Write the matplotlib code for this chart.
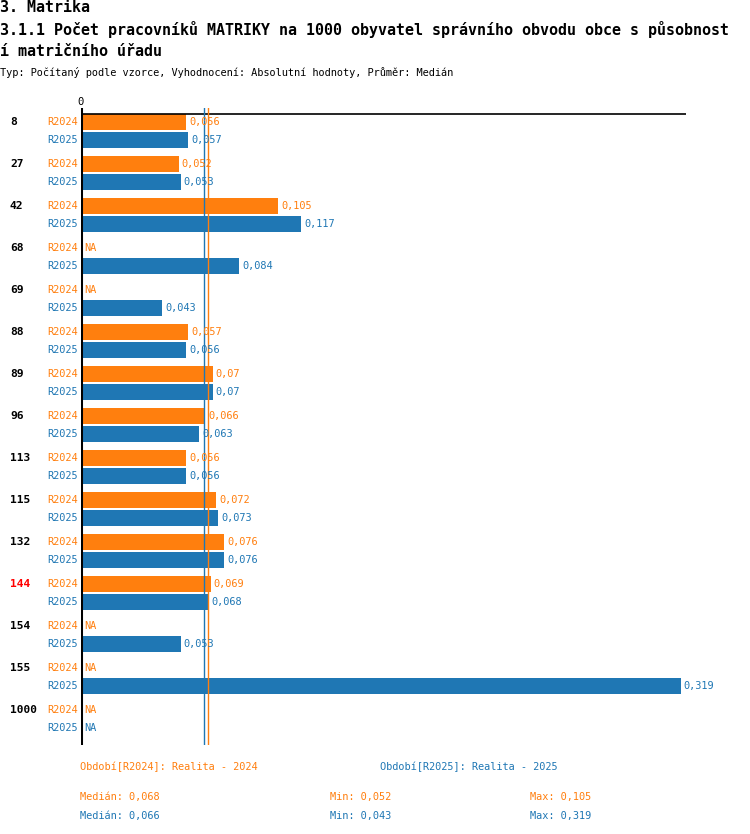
import numpy as np
import matplotlib
matplotlib.use('Agg')
import matplotlib.pyplot as plt

# Data
groups = ['8', '27', '42', '68', '69', '88', '89', '96', '113', '115', '132', '144', '154', '155', '1000']
r2024 = [0.056, 0.052, 0.105, np.nan, np.nan, 0.057, 0.070, 0.066, 0.056, 0.072, 0.076, 0.069, np.nan, np.nan, np.nan]
r2025 = [0.057, 0.053, 0.117, 0.084, 0.043, 0.056, 0.070, 0.063, 0.056, 0.073, 0.076, 0.068, 0.053, 0.319, np.nan]
highlight = '144'

series_names = ['R2024', 'R2025']
series_desc = ['Období[R2024]: Realita - 2024', 'Období[R2025]: Realita - 2025']
colors = ['#ff7f0e', '#1f77b4']

title1 = '3. Matrika'
title2 = '3.1.1 Počet pracovníků MATRIKY na 1000 obyvatel správního obvodu obce s působnost'
title3 = 'í matričního úřadu'
subtitle = 'Typ: Počítaný podle vzorce, Vyhodnocení: Absolutní hodnoty, Průměr: Medián'

MONO = 'DejaVu Sans Mono'
W, H = 750, 834


def fmt(v):
    s = f"{v + 1e-9:.3f}".rstrip('0').rstrip('.')
    return s.replace('.', ',')


def fx(px):
    return px / W


def fy(py):
    return 1 - py / H


fig = plt.figure(figsize=(W / 100, H / 100), dpi=100)

# header texts
fig.text(fx(0), fy(8), title1, fontsize=10.8, fontweight='bold', family=MONO, va='center')
fig.text(fx(0), fy(30), title2, fontsize=10.8, fontweight='bold', family=MONO, va='center')
fig.text(fx(0), fy(52), title3, fontsize=10.8, fontweight='bold', family=MONO, va='center')
fig.text(fx(0), fy(73), subtitle, fontsize=7.4, family=MONO, va='center')

ax = fig.add_axes([fx(81), fy(745), fx(686) - fx(81), (745 - 108) / H])

all_vals = np.array(r2024 + r2025, dtype=float)
xmax = np.nanmax(all_vals) * 1.009
ax.set_xlim(0, xmax)
ax.set_ylim(623, -14)
ax.axis('off')

group_step = 42
row_step = 18
bar_h = 16

for k, vals in enumerate([r2024, r2025]):
    vals = np.array(vals, dtype=float)
    ys = np.arange(len(groups)) * group_step + k * row_step
    ok = ~np.isnan(vals)
    ax.barh(ys[ok], vals[ok], height=bar_h, color=colors[k], left=0)
    for y, v in zip(ys, vals):
        if np.isnan(v):
            ax.annotate('NA', (0, y), xytext=(2.2, 0), textcoords='offset points',
                        va='center', ha='left', fontsize=7.4, family=MONO, color=colors[k])
        else:
            ax.annotate(fmt(v), (v, y), xytext=(2.2, 0), textcoords='offset points',
                        va='center', ha='left', fontsize=7.4, family=MONO, color=colors[k])
        ax.annotate(series_names[k], (0, y), xytext=(-2.2, 0), textcoords='offset points',
                    va='center', ha='right', fontsize=7.4, family=MONO, color=colors[k],
                    annotation_clip=False)

# group labels
for i, g in enumerate(groups):
    fig.text(fx(10), fy(122 + i * group_step), g, fontsize=8.1, fontweight='bold', family=MONO,
             va='center', ha='left', color='red' if g == highlight else 'black')

# axis lines
ax.axhline(-8, color='black', lw=1.2)
ax.axvline(0, color='black', lw=2.2)
ax.annotate('0', (0, -14), xytext=(0, 1), textcoords='offset points', ha='center', va='bottom',
            fontsize=7.6, family=MONO, annotation_clip=False)

# median lines
medians = [np.nanmedian(np.array(s, dtype=float)) for s in (r2024, r2025)]
for m, c in zip(medians, colors):
    ax.axvline(m, color=c, lw=1.0)

# bottom legend and statistics
fig.text(fx(80), fy(767), series_desc[0], fontsize=7.4, family=MONO, color=colors[0], va='center')
fig.text(fx(380), fy(767), series_desc[1], fontsize=7.4, family=MONO, color=colors[1], va='center')
for k, (s, py) in enumerate(zip((r2024, r2025), (797, 816))):
    arr = np.array(s, dtype=float)
    fig.text(fx(80), fy(py), 'Medián: ' + fmt(np.nanmedian(arr)), fontsize=7.4, family=MONO,
             color=colors[k], va='center')
    fig.text(fx(330), fy(py), 'Min: ' + fmt(np.nanmin(arr)), fontsize=7.4, family=MONO,
             color=colors[k], va='center')
    fig.text(fx(530), fy(py), 'Max: ' + fmt(np.nanmax(arr)), fontsize=7.4, family=MONO,
             color=colors[k], va='center')

fig.savefig('out.png', dpi=100)
